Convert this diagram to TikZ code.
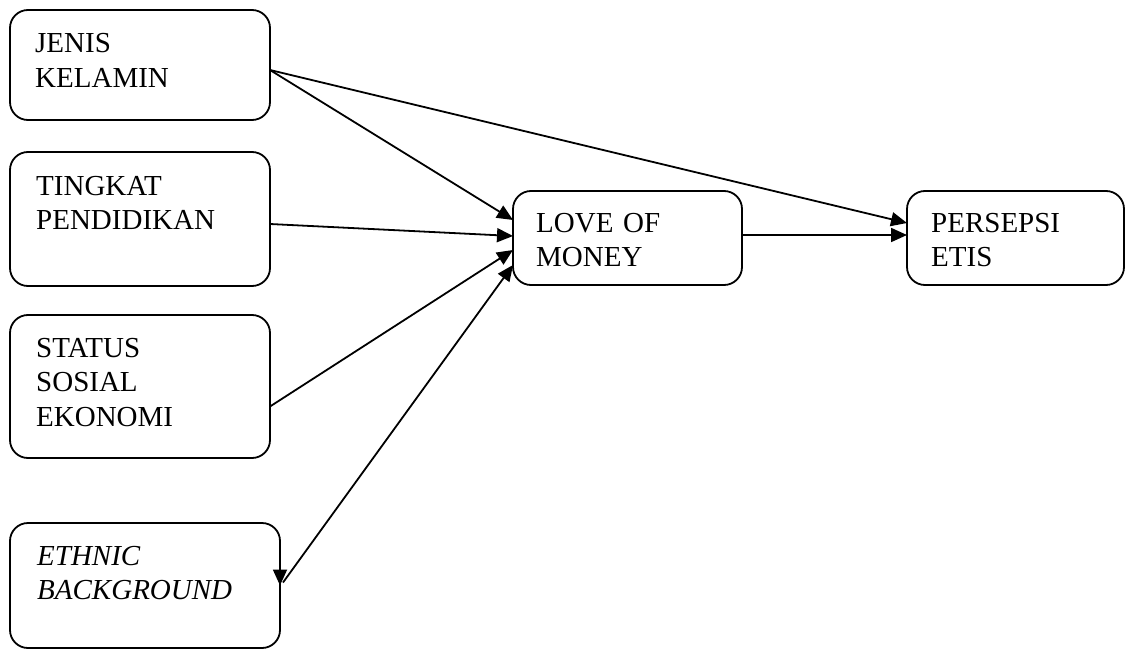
\documentclass[tikz,border=0pt]{standalone}
\usepackage{fontspec}
\setmainfont{Liberation Serif}
\usetikzlibrary{arrows.meta}
\begin{document}
\begin{tikzpicture}[x=1pt,y=-1pt,
  box/.style={draw, line width=1.8pt, rounded corners=18pt, anchor=north west, inner sep=0pt, outer sep=0pt},
  txt/.style={anchor=base west, inner sep=0pt, text width=240pt, align=left, font=\fontsize{29}{34.5}\selectfont},
  arr/.style={line width=1.8pt, -{Triangle[length=16pt,width=14pt]}}]
\useasboundingbox (0,0) rectangle (1126,650);
% boxes
\node[box, minimum width=260pt, minimum height=110pt] (jk) at (10,10) {};
\node[box, minimum width=260pt, minimum height=134pt] (tp) at (10,152) {};
\node[box, minimum width=260pt, minimum height=143pt] (ss) at (10,315) {};
\node[box, minimum width=270pt, minimum height=125pt] (eb) at (10,523) {};
\node[box, minimum width=229pt, minimum height=94pt] (lm) at (513,191) {};
\node[box, minimum width=217pt, minimum height=94pt] (pe) at (907,191) {};
% texts
\node[txt] (jkt) at (35,53) {JENIS\\KELAMIN};
\node[txt] (tpt) at (36,195) {TINGKAT\\PENDIDIKAN};
\node[txt] (sst) at (36,357) {STATUS\\SOSIAL\\EKONOMI};
\node[txt, font=\fontsize{29}{34.5}\selectfont\itshape] (ebt) at (37,565) {ETHNIC\\BACKGROUND};
\node[txt] (lmt) at (536,232) {LOVE OF\\MONEY};
\node[txt] (pet) at (931,232) {PERSEPSI\\ETIS};
% connectors
\draw[arr] ([yshift=-5pt]jk.east) -- ([yshift=18pt]lm.west);
\draw[arr] ([yshift=-5pt]jk.east) -- ([yshift=15pt]pe.west);
\draw[arr] ([yshift=-5pt]tp.east) -- ([yshift=2pt]lm.west);
\draw[arr] ([yshift=-20pt]ss.east) -- ([yshift=-12pt]lm.west);
\draw[arr] ([xshift=3pt,yshift=3pt]eb.east) -- ([yshift=-27pt]lm.west);
\draw[arr] ([yshift=16pt]eb.east) -- (eb.east);
\draw[arr] ([yshift=3pt]lm.east) -- ([yshift=3pt]pe.west);
\end{tikzpicture}
\end{document}
